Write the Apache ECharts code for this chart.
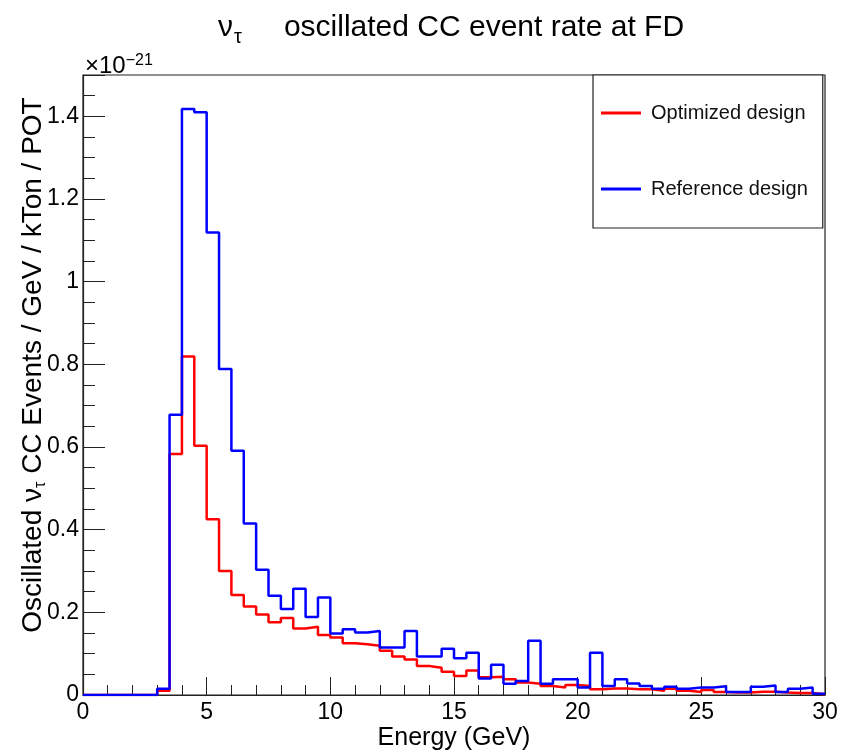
<!DOCTYPE html>
<html>
<head>
<meta charset="utf-8">
<script src="https://cdn.jsdelivr.net/npm/echarts@6/dist/echarts.min.js"></script>
<style>html,body{margin:0;padding:0;background:#fff}#c{width:850px;height:753px}</style>
</head>
<body>
<div id="c"></div>
<script>
// Histogram: 60 bins of 0.5 GeV from 0 to 30 GeV, values in units of 1e-21
const xMin = 0, xMax = 30, binWidth = 0.5;
const yTicks = ['0', '0.2', '0.4', '0.6', '0.8', '1', '1.2', '1.4'];
const seriesNames = ['Optimized design', 'Reference design'];
const optimized = [
  0, 0, 0, 0, 0, 0,
  0.010, 0.583, 0.819, 0.603, 0.425, 0.300, 0.242, 0.214, 0.195, 0.176,
  0.186, 0.161, 0.165, 0.145, 0.139, 0.125, 0.123, 0.119, 0.107, 0.093,
  0.086, 0.070, 0.066, 0.056, 0.046, 0.059, 0.043, 0.044, 0.038, 0.030,
  0.027, 0.022, 0.018, 0.024, 0.022, 0.014, 0.016, 0.016, 0.014, 0.014,
  0.010, 0.015, 0.010, 0.007, 0.012, 0.007, 0.006, 0.006, 0.008, 0.008,
  0.006, 0.005, 0.005, 0.002
];
const reference = [
  0, 0, 0, 0, 0, 0,
  0.015, 0.678, 1.418, 1.410, 1.119, 0.789, 0.591, 0.415, 0.303, 0.240,
  0.208, 0.257, 0.189, 0.236, 0.149, 0.159, 0.151, 0.155, 0.115, 0.115,
  0.155, 0.093, 0.093, 0.112, 0.089, 0.102, 0.040, 0.073, 0.027, 0.034,
  0.131, 0.027, 0.038, 0.038, 0.018, 0.102, 0.022, 0.038, 0.028, 0.022,
  0.015, 0.020, 0.015, 0.018, 0.018, 0.021, 0.007, 0.007, 0.020, 0.023,
  0.007, 0.015, 0.018, 0.003
];

function stepData(vals) {
  const d = vals.map((v, i) => [xMin + i * binWidth, v]);
  d.push([xMax, vals[vals.length - 1]]);
  return d;
}

const FONT = '"Liberation Sans", Arial, Helvetica, sans-serif';
const chart = echarts.init(document.getElementById('c'), null, {renderer: 'canvas'});
const grid = {
  left: 83, right: 25, top: 75, bottom: 58,
  outerBoundsMode: 'none', containLabel: false,
  show: true, borderColor: '#222', borderWidth: 1.2, backgroundColor: 'transparent'
};

function fmtY(v) {
  if (v > 1.45) return '';
  const idx = Math.round(v / 0.2);
  return yTicks[idx] !== undefined ? yTicks[idx] : '';
}

chart.setOption({
  animation: false,
  backgroundColor: '#fff',
  textStyle: {fontFamily: FONT},
  title: [{
    text: '{a|ν}{s|τ}{a|oscillated CC event rate at FD}',
    left: 213, top: 4,
    textStyle: {
      fontWeight: 'normal',
      rich: {
        a: {fontFamily: FONT, fontSize: 30, fontWeight: 'normal', color: '#000', lineHeight: 38},
        s: {fontFamily: FONT, fontSize: 20, fontWeight: 'normal', color: '#000', lineHeight: 20, verticalAlign: 'bottom', padding: [0, 42, 0, 1]}
      }
    }
  }, {
    text: '{a|×10}{s|−21}',
    left: 80, top: 48,
    textStyle: {
      fontWeight: 'normal',
      rich: {
        a: {fontFamily: FONT, fontSize: 24, fontWeight: 'normal', color: '#000', lineHeight: 26},
        s: {fontFamily: FONT, fontSize: 16, fontWeight: 'normal', color: '#000', lineHeight: 16, verticalAlign: 'top'}
      }
    }
  }],
  legend: {
    orient: 'vertical',
    left: 593, top: 75,
    data: seriesNames,
    icon: 'rect',
    itemWidth: 40, itemHeight: 3,
    itemGap: 56,
    padding: [28, 15, 29, 8],
    backgroundColor: '#fff',
    borderColor: '#222', borderWidth: 1.2,
    textStyle: {fontFamily: FONT, fontSize: 20, color: '#111', lineHeight: 20, padding: [0, 0, 0, 5]}
  },
  grid: grid,
  xAxis: [{
    type: 'value', min: xMin, max: xMax, interval: 5,
    axisLine: {show: true, onZero: false, lineStyle: {color: '#222', width: 1.2}},
    axisTick: {show: true, inside: true, length: 18, lineStyle: {color: '#222'}},
    axisLabel: {fontFamily: FONT, fontSize: 23, color: '#000', margin: 6},
    splitLine: {show: false},
    name: 'Energy (GeV)', nameLocation: 'middle', nameGap: 31, nameMoveOverlap: false,
    nameTextStyle: {fontFamily: FONT, fontSize: 25, color: '#000'}
  }, {
    type: 'value', min: xMin, max: xMax, interval: 1, position: 'bottom',
    axisLine: {show: false},
    axisTick: {show: true, inside: true, length: 10, lineStyle: {color: '#222'}},
    axisLabel: {show: false},
    splitLine: {show: false}
  }],
  yAxis: [{
    type: 'value', min: 0, max: 1.5, interval: 0.2,
    axisLine: {show: true, onZero: false, lineStyle: {color: '#222', width: 1.2}},
    axisTick: {show: true, inside: true, length: 22, lineStyle: {color: '#222'}},
    axisLabel: {fontFamily: FONT, fontSize: 23, color: '#000', margin: 4, formatter: fmtY},
    splitLine: {show: false},
    name: '{a|Oscillated ν}{s|τ}{a| CC Events / GeV / kTon / POT}',
    nameLocation: 'middle', nameGap: 34, nameMoveOverlap: false,
    nameTextStyle: {
      padding: [0, 0, 0, 40],
      rich: {
        a: {fontFamily: FONT, fontSize: 28, color: '#000', lineHeight: 32},
        s: {fontFamily: FONT, fontSize: 16, color: '#000', lineHeight: 16, verticalAlign: 'bottom'}
      }
    }
  }, {
    type: 'value', min: 0, max: 1.5, interval: 0.05, position: 'left',
    axisLine: {show: false},
    axisTick: {show: true, inside: true, length: 12, lineStyle: {color: '#222'}},
    axisLabel: {show: false},
    splitLine: {show: false}
  }],
  series: [{
    name: seriesNames[0], type: 'line', step: 'end', symbol: 'none',
    xAxisIndex: 0, yAxisIndex: 0,
    lineStyle: {color: '#ff0000', width: 2.5}, itemStyle: {color: '#ff0000'},
    data: stepData(optimized)
  }, {
    name: seriesNames[1], type: 'line', step: 'end', symbol: 'none',
    xAxisIndex: 0, yAxisIndex: 0,
    lineStyle: {color: '#0000ff', width: 2.5}, itemStyle: {color: '#0000ff'},
    data: stepData(reference)
  }]
});
</script>
</body>
</html>
